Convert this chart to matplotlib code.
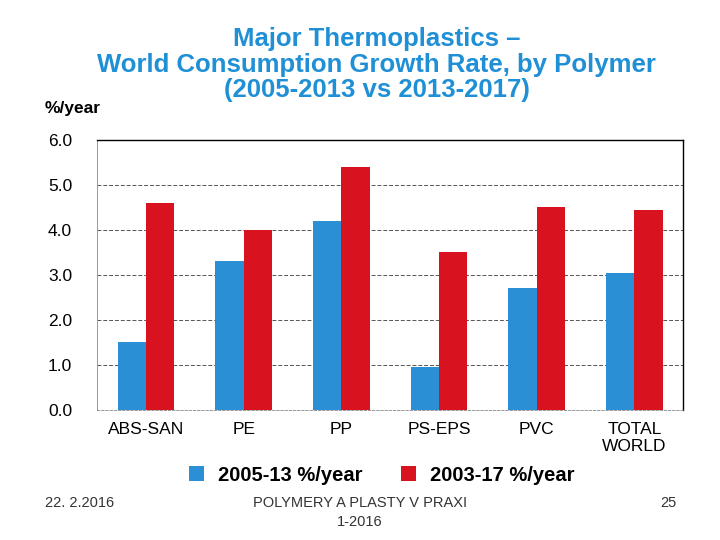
import matplotlib
matplotlib.use("Agg")
import matplotlib.pyplot as plt
import numpy as np

# ── Data ──────────────────────────────────────────────────────────────────────

POLYMERS = ["ABS-SAN", "PE", "PP", "PS-EPS", "PVC", "TOTAL\nWORLD"]
RATE_0513 = [1.5, 3.3, 4.2, 0.95, 2.7, 3.05]
RATE_0317 = [4.6, 4.0, 5.4, 3.5, 4.5, 4.45]
SERIES = ["2005-13 %/year", "2003-17 %/year"]
Y_TICKS = [0.0, 1.0, 2.0, 3.0, 4.0, 5.0, 6.0]

BLUE = "#2b8fd6"
RED = "#d8121f"
TITLE_BLUE = "#1f8fd6"
FONT = "Liberation Sans"

plt.rcParams["font.family"] = [FONT, "DejaVu Sans"]

fig = plt.figure(figsize=(7.2, 5.4), dpi=100)
ax = fig.add_axes([0.135, 0.241, 0.814, 0.500])

x = np.arange(len(POLYMERS))
w = 0.29
ax.bar(x - w / 2, RATE_0513, width=w, color=BLUE, label=SERIES[0], zorder=3)
ax.bar(x + w / 2, RATE_0317, width=w, color=RED, label=SERIES[1], zorder=3)

ax.set_xlim(-0.5, len(POLYMERS) - 0.5)
ax.set_ylim(0, 6.0)
ax.set_yticks(Y_TICKS)
ax.set_yticklabels([f"{v:.1f}" for v in Y_TICKS], fontsize=12.5)
ax.set_xticks(x)
ax.set_xticklabels(POLYMERS, fontsize=12.5, linespacing=1.1, va="top")
ax.tick_params(length=0, pad=9)
ax.tick_params(axis="y", pad=18)
ax.yaxis.grid(True, color="#555555", linestyle=(0, (4, 2)), linewidth=0.7)
for side in ["left", "bottom"]:
    ax.spines[side].set_color("#888888")
    ax.spines[side].set_linewidth(0.6)
ax.spines["bottom"].set_linestyle((0, (3, 2)))
for side in ["top", "right"]:
    ax.spines[side].set_color("black")
    ax.spines[side].set_linewidth(1.0)

fig.text(0.062, 0.79, "%/year", fontsize=12.5, fontweight="bold")

fig.text(0.523, 0.927, "Major Thermoplastics \u2013", ha="center", va="center",
         fontsize=18.5, fontweight="bold", color=TITLE_BLUE)
fig.text(0.523, 0.879, "World Consumption Growth Rate, by Polymer", ha="center",
         va="center", fontsize=18.5, fontweight="bold", color=TITLE_BLUE)
fig.text(0.523, 0.834, "(2005-2013 vs 2013-2017)", ha="center", va="center",
         fontsize=18.5, fontweight="bold", color=TITLE_BLUE)

fig.legend(loc="center", bbox_to_anchor=(0.53, 0.12), ncol=2, frameon=False,
           prop={"weight": "bold", "size": 14.5}, handlelength=0.75,
           handleheight=0.75, handletextpad=0.7, columnspacing=1.9)

foot = dict(fontsize=10.5, color="#333333", family=["Liberation Sans Narrow", FONT])
fig.text(0.062, 0.068, "22. 2.2016", va="center", **foot)
fig.text(0.5, 0.068, "POLYMERY A PLASTY V PRAXI", ha="center", va="center", **foot)
fig.text(0.5, 0.033, "1-2016", ha="center", va="center", **foot)
fig.text(0.94, 0.068, "25", ha="right", va="center", **foot)

fig.savefig("out.png", dpi=100)
